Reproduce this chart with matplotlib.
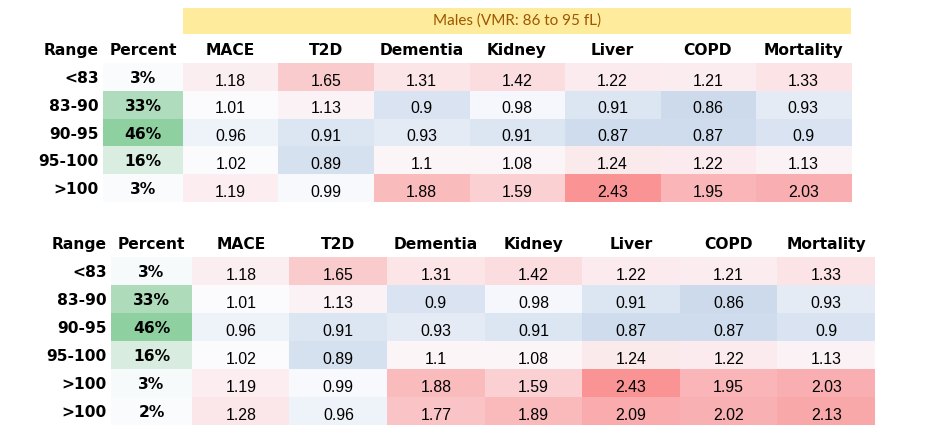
import matplotlib
matplotlib.use("Agg")
import matplotlib.pyplot as plt
import numpy as np
from matplotlib.colors import LinearSegmentedColormap, TwoSlopeNorm, Normalize
from matplotlib import transforms

# ---------------- data ----------------
categories = ["MACE", "T2D", "Dementia", "Kidney", "Liver", "COPD", "Mortality"]

ranges_top = ["<83", "83-90", "90-95", "95-100", ">100"]
percent_top = [3, 33, 46, 16, 3]
values_top = [
    [1.18, 1.65, 1.31, 1.42, 1.22, 1.21, 1.33],
    [1.01, 1.13, 0.9, 0.98, 0.91, 0.86, 0.93],
    [0.96, 0.91, 0.93, 0.91, 0.87, 0.87, 0.9],
    [1.02, 0.89, 1.1, 1.08, 1.24, 1.22, 1.13],
    [1.19, 0.99, 1.88, 1.59, 2.43, 1.95, 2.03],
]

ranges_bottom = ["<83", "83-90", "90-95", "95-100", ">100", ">100"]
percent_bottom = [3, 33, 46, 16, 3, 2]
values_bottom = [
    [1.18, 1.65, 1.31, 1.42, 1.22, 1.21, 1.33],
    [1.01, 1.13, 0.9, 0.98, 0.91, 0.86, 0.93],
    [0.96, 0.91, 0.93, 0.91, 0.87, 0.87, 0.9],
    [1.02, 0.89, 1.1, 1.08, 1.24, 1.22, 1.13],
    [1.19, 0.99, 1.88, 1.59, 2.43, 1.95, 2.03],
    [1.28, 0.96, 1.77, 1.89, 2.09, 2.02, 2.13],
]

banner_text = "Males (VMR: 86 to 95 fL)"

# ---------------- styling ----------------
W, H = 932, 429
fig = plt.figure(figsize=(W / 100, H / 100), dpi=100)
fig.patch.set_facecolor("white")

val_cmap = LinearSegmentedColormap.from_list("bwr_soft", ["#CCDAEC", "#FCFCFF", "#F99394"])
pct_cmap = LinearSegmentedColormap.from_list("green_soft", ["#FAFBFD", "#8FD0A0"])

HEAD_FONT = dict(family="DejaVu Sans", weight="bold", size=11.2)
NUM_FONT = dict(family="Liberation Sans", size=11.4)


def px_axes(x0, y0, x1, y1):
    return fig.add_axes([x0 / W, 1 - y1 / H, (x1 - x0) / W, (y1 - y0) / H])


def clean(ax):
    ax.set_xticks([])
    ax.set_yticks([])
    for s in ax.spines.values():
        s.set_visible(False)


def draw_table(ranges, percents, values, pct_box, val_box):
    vals = np.array(values, dtype=float)
    pcts = np.array(percents, dtype=float)
    nrow, ncol = vals.shape

    # value heat map
    axv = px_axes(*val_box)
    norm = TwoSlopeNorm(vmin=vals.min(), vcenter=1.0, vmax=vals.max())
    axv.imshow(vals, cmap=val_cmap, norm=norm, aspect="auto", interpolation="nearest")
    clean(axv)
    num_off = transforms.offset_copy(axv.transData, fig=fig, x=0, y=-3, units="points")
    head_off = transforms.offset_copy(axv.transData, fig=fig, x=0, y=-1.2, units="points")
    for i in range(nrow):
        for j in range(ncol):
            axv.text(j, i, f"{vals[i, j]:g}", ha="center", va="center",
                     color="black", transform=num_off, **NUM_FONT)
    for j, c in enumerate(categories):
        axv.text(j, -1, c, ha="center", va="center", color="black",
                 transform=head_off, clip_on=False, **HEAD_FONT)

    # percent column
    axp = px_axes(*pct_box)
    pnorm = Normalize(vmin=pcts.min(), vmax=pcts.max())
    axp.imshow(pcts.reshape(-1, 1), cmap=pct_cmap, norm=pnorm, aspect="auto",
               interpolation="nearest")
    clean(axp)
    p_off = transforms.offset_copy(axp.transData, fig=fig, x=0, y=-1.2, units="points")
    for i, p in enumerate(pcts):
        axp.text(0, i, f"{p:g}%", ha="center", va="center", color="black",
                 transform=p_off, **HEAD_FONT)
    axp.text(0, -1, "Percent", ha="center", va="center", color="black",
             transform=p_off, clip_on=False, **HEAD_FONT)

    lab_tr = transforms.offset_copy(axp.transData, fig=fig, x=-3, y=-1.2, units="points")
    for i, r in enumerate(ranges):
        axp.text(-0.5, i, r, ha="right", va="center", color="black",
                 transform=lab_tr, clip_on=False, **HEAD_FONT)
    axp.text(-0.5, -1, "Range", ha="right", va="center", color="black",
             transform=lab_tr, clip_on=False, **HEAD_FONT)


# top table
axb = px_axes(183, 8, 851, 34)
axb.set_facecolor("#FFEB9C")
clean(axb)
axb.text(0.5, 0.5, banner_text, ha="center", va="center", color="#9C5700",
         family="Lato", size=11, transform=axb.transAxes)

draw_table(ranges_top, percent_top, values_top,
           pct_box=(103, 63, 183, 202), val_box=(183, 63, 851, 202))

# bottom table
draw_table(ranges_bottom, percent_bottom, values_bottom,
           pct_box=(111, 257, 192, 425), val_box=(192, 257, 875, 425))

fig.savefig("out.png", dpi=100, facecolor="white")
